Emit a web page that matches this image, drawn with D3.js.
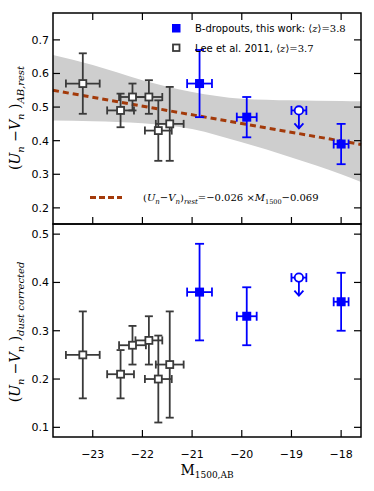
<!DOCTYPE html>
<html>
<head>
<meta charset="utf-8">
<script src="https://cdn.jsdelivr.net/npm/d3@7"></script>
<style>
  body { margin: 0; background: #fff; }
  .tick-label { font-family: 'DejaVu Sans', sans-serif; font-size: 11px; fill: #000; }
  .math { font-family: 'DejaVu Serif', 'Liberation Serif', serif; }
</style>
</head>
<body>
<div id="chart"></div>
<script>
// B-dropouts (this work)
var bM = [-20.85, -19.9, -18.0];
var bMerr = [0.25, 0.2, 0.15];
var bRest = [0.57, 0.47, 0.39];
var bRestErr = [0.10, 0.06, 0.06];
var bDust = [0.38, 0.33, 0.36];
var bDustErr = [0.10, 0.06, 0.06];
// upper limit point
var limM = -18.85, limMerr = 0.15, limRest = 0.49, limDust = 0.41;

// Lee et al. 2011
var lM = [-23.2, -22.44, -22.2, -21.87, -21.68, -21.45];
var lMerr = [0.34, 0.27, 0.27, 0.27, 0.27, 0.28];
var lRest = [0.57, 0.49, 0.53, 0.53, 0.43, 0.45];
var lRestErr = [0.09, 0.05, 0.04, 0.05, 0.09, 0.11];
var lDust = [0.25, 0.21, 0.27, 0.28, 0.20, 0.23];
var lDustErr = [0.09, 0.05, 0.04, 0.05, 0.09, 0.11];

// fit and confidence band
var fitSlope = -0.026, fitIcpt = -0.069;
var bandM = [-23.8, -23, -22, -21, -20, -19, -18, -17.6];
var bandHi = [0.655, 0.625, 0.58, 0.545, 0.525, 0.52, 0.518, 0.517];
var bandLo = [0.46, 0.458, 0.452, 0.435, 0.395, 0.35, 0.30, 0.277];

var xTicks = [-23, -22, -21, -20, -19, -18];
var yTopTicks = [0.2, 0.3, 0.4, 0.5, 0.6, 0.7];
var yBotTicks = [0.1, 0.2, 0.3, 0.4, 0.5];

var W = 374, H = 491;
var left = 53, right = 361, topY = 13, midY = 224, botY = 437;
var BLUE = '#0000ff', GREY = '#3a3a3a', FIT = '#a33a0a';

var svg = d3.select('#chart').append('svg').attr('width', W).attr('height', H);

var x = d3.scaleLinear().domain([-23.8, -17.6]).range([left, right]);
var yTop = d3.scaleLinear().domain([0.152, 0.78]).range([midY, topY]);
var yBot = d3.scaleLinear().domain([0.08, 0.521]).range([botY, midY]);

var topG = svg.append('g');
var botG = svg.append('g');

// band
topG.append('path')
  .datum(bandM.map(function(m, i) { return [m, bandLo[i], bandHi[i]]; }))
  .attr('fill', '#cecece')
  .attr('d', d3.area().curve(d3.curveMonotoneX)
    .x(function(d) { return x(d[0]); })
    .y0(function(d) { return yTop(d[1]); })
    .y1(function(d) { return yTop(d[2]); }));

// fit line
topG.append('line')
  .attr('x1', x(-23.8)).attr('y1', yTop(fitSlope * -23.8 + fitIcpt))
  .attr('x2', x(-17.6)).attr('y2', yTop(fitSlope * -17.6 + fitIcpt))
  .attr('stroke', FIT).attr('stroke-width', 3).attr('stroke-dasharray', '6,4');

function errbar(g, y, m, merr, v, err, color, cap) {
  var segs = [
    [x(m), y(v - err), x(m), y(v + err)],
    [x(m - merr), y(v), x(m + merr), y(v)],
    [x(m) - cap, y(v - err), x(m) + cap, y(v - err)],
    [x(m) - cap, y(v + err), x(m) + cap, y(v + err)],
    [x(m - merr), y(v) - cap, x(m - merr), y(v) + cap],
    [x(m + merr), y(v) - cap, x(m + merr), y(v) + cap]
  ];
  segs.forEach(function(s) {
    g.append('line').attr('x1', s[0]).attr('y1', s[1]).attr('x2', s[2]).attr('y2', s[3])
      .attr('stroke', color).attr('stroke-width', 1.8);
  });
}

function drawPanel(g, y, lVals, lErr, bVals, bErr, limVal) {
  lM.forEach(function(m, i) { errbar(g, y, m, lMerr[i], lVals[i], lErr[i], GREY, 4); });
  lM.forEach(function(m, i) {
    g.append('rect').attr('x', x(m) - 3.5).attr('y', y(lVals[i]) - 3.5).attr('width', 7).attr('height', 7)
      .attr('fill', '#fff').attr('stroke', GREY).attr('stroke-width', 1.8);
  });
  bM.forEach(function(m, i) { errbar(g, y, m, bMerr[i], bVals[i], bErr[i], BLUE, 4.5); });
  bM.forEach(function(m, i) {
    g.append('rect').attr('x', x(m) - 4.5).attr('y', y(bVals[i]) - 4.5).attr('width', 9).attr('height', 9)
      .attr('fill', BLUE);
  });
  // upper limit
  var px = x(limM), py = y(limVal);
  g.append('line').attr('x1', x(limM - limMerr)).attr('x2', x(limM + limMerr)).attr('y1', py).attr('y2', py)
    .attr('stroke', BLUE).attr('stroke-width', 1.8);
  [x(limM - limMerr), x(limM + limMerr)].forEach(function(cx) {
    g.append('line').attr('x1', cx).attr('x2', cx).attr('y1', py - 4.5).attr('y2', py + 4.5)
      .attr('stroke', BLUE).attr('stroke-width', 1.8);
  });
  g.append('line').attr('x1', px).attr('x2', px).attr('y1', py).attr('y2', py + 18)
    .attr('stroke', BLUE).attr('stroke-width', 1.8);
  g.append('path').attr('d', 'M' + (px - 4.5) + ',' + (py + 13) + 'L' + px + ',' + (py + 18) + 'L' + (px + 4.5) + ',' + (py + 13))
    .attr('fill', 'none').attr('stroke', BLUE).attr('stroke-width', 1.8);
  g.append('circle').attr('cx', px).attr('cy', py).attr('r', 4.2)
    .attr('fill', '#fff').attr('stroke', BLUE).attr('stroke-width', 1.8);
}

drawPanel(topG, yTop, lRest, lRestErr, bRest, bRestErr, limRest);
drawPanel(botG, yBot, lDust, lDustErr, bDust, bDustErr, limDust);

// frames and ticks
function frame(y, t, b, ticks, xTop, xBot) {
  var g = svg.append('g');
  g.append('rect').attr('x', left).attr('y', t).attr('width', right - left).attr('height', b - t)
    .attr('fill', 'none').attr('stroke', '#000').attr('stroke-width', 1.5);
  ticks.forEach(function(v) {
    g.append('line').attr('x1', left).attr('x2', left + 7).attr('y1', y(v)).attr('y2', y(v)).attr('stroke', '#000').attr('stroke-width', 1.2);
    g.append('line').attr('x1', right - 7).attr('x2', right).attr('y1', y(v)).attr('y2', y(v)).attr('stroke', '#000').attr('stroke-width', 1.2);
    g.append('text').attr('class', 'tick-label').attr('x', left - 4).attr('y', y(v) + 4)
      .attr('text-anchor', 'end').text(d3.format('.1f')(v));
  });
  xTicks.forEach(function(m) {
    if (xTop) g.append('line').attr('x1', x(m)).attr('x2', x(m)).attr('y1', t).attr('y2', t + 7).attr('stroke', '#000').attr('stroke-width', 1.2);
    if (xBot) g.append('line').attr('x1', x(m)).attr('x2', x(m)).attr('y1', b - 7).attr('y2', b).attr('stroke', '#000').attr('stroke-width', 1.2);
  });
}
frame(yTop, topY, midY, yTopTicks, true, true);
frame(yBot, midY, botY, yBotTicks, false, true);

xTicks.forEach(function(m) {
  svg.append('text').attr('class', 'tick-label').attr('x', x(m)).attr('y', botY + 21)
    .attr('text-anchor', 'middle').text('\u2212' + Math.abs(m));
});

// legend
svg.append('rect').attr('x', 172).attr('y', 24).attr('width', 8.5).attr('height', 8.5).attr('fill', BLUE);
svg.append('rect').attr('x', 173).attr('y', 44.5).attr('width', 6.5).attr('height', 6.5)
  .attr('fill', '#fff').attr('stroke', GREY).attr('stroke-width', 1.8);
function legText(yy, label, z) {
  var t = svg.append('text').attr('x', 195).attr('y', yy).attr('font-size', 10);
  t.append('tspan').attr('font-family', 'DejaVu Sans, sans-serif').text(label);
  t.append('tspan').attr('class', 'math').text('\u27E8');
  t.append('tspan').attr('class', 'math').attr('font-style', 'italic').text('z');
  t.append('tspan').attr('class', 'math').text('\u27E9=' + z);
}
legText(32, 'B-dropouts, this work: ', '3.8');
legText(51.5, 'Lee et al. 2011, ', '3.7');

// fit legend
svg.append('line').attr('x1', 90).attr('x2', 122).attr('y1', 197.5).attr('y2', 197.5)
  .attr('stroke', FIT).attr('stroke-width', 3).attr('stroke-dasharray', '6,3');
var ft = svg.append('text').attr('class', 'math').attr('x', 143).attr('y', 201).attr('font-size', 10);
ft.append('tspan').text('(');
ft.append('tspan').attr('font-style', 'italic').text('U');
ft.append('tspan').attr('font-style', 'italic').attr('font-size', 7).attr('dy', 2.5).text('n');
ft.append('tspan').attr('dy', -2.5).text('\u2212');
ft.append('tspan').attr('font-style', 'italic').text('V');
ft.append('tspan').attr('font-style', 'italic').attr('font-size', 7).attr('dy', 2.5).text('n');
ft.append('tspan').attr('dy', -2.5).text(')');
ft.append('tspan').attr('font-style', 'italic').attr('font-size', 7).attr('dy', 2.5).text('rest');
ft.append('tspan').attr('dy', -2.5).text('=\u22120.026 \u00D7');
ft.append('tspan').attr('font-style', 'italic').text('M');
ft.append('tspan').attr('font-size', 6.5).attr('dy', 2.5).text('1500');
ft.append('tspan').attr('dy', -2.5).text('\u22120.069');

// y labels
function yLabel(cy, sub) {
  var t = svg.append('text').attr('class', 'math').attr('font-size', 14)
    .attr('transform', 'translate(20,' + cy + ') rotate(-90)').attr('text-anchor', 'middle');
  t.append('tspan').text('(');
  t.append('tspan').attr('font-style', 'italic').text('U');
  t.append('tspan').attr('font-style', 'italic').attr('font-size', 10).attr('dy', 4).text('n');
  t.append('tspan').attr('dy', -4).text(' \u2212');
  t.append('tspan').attr('font-style', 'italic').text('V');
  t.append('tspan').attr('font-style', 'italic').attr('font-size', 10).attr('dy', 4).text('n');
  t.append('tspan').attr('dy', -4).text(' )');
  t.append('tspan').attr('font-style', 'italic').attr('font-size', 10).attr('dy', 4).text(sub);
}
yLabel(118, 'AB,rest');
yLabel(332, 'dust corrected');

// x label
var xl = svg.append('text').attr('class', 'math').attr('x', 207).attr('y', 475).attr('text-anchor', 'middle').attr('font-size', 14);
xl.append('tspan').text('M');
xl.append('tspan').attr('font-size', 9).attr('dy', 3).text('1500,AB');
</script>
</body>
</html>
